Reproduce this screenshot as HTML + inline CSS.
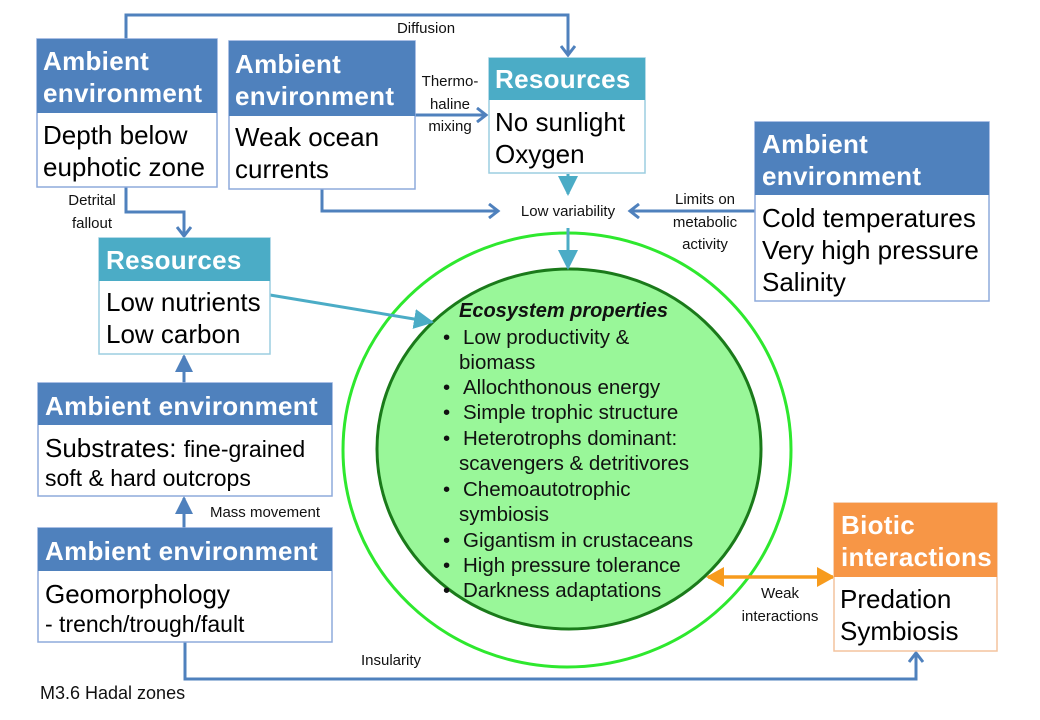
<!DOCTYPE html>
<html><head><meta charset="utf-8"><style>
html,body{margin:0;padding:0;background:#fff}
svg{display:block}
.h{font-family:"Liberation Sans",Arial,sans-serif;font-weight:bold;font-size:26px;fill:#fff;letter-spacing:0.3px}
.b{font-family:"Liberation Sans",Arial,sans-serif;font-size:26px;fill:#000}
.c{font-family:"Liberation Sans",Arial,sans-serif;font-size:20.5px;fill:#111}
.l{font-family:"Liberation Sans",Arial,sans-serif;font-size:15px;fill:#111}
</style></head><body>
<svg width="1040" height="720" viewBox="0 0 1040 720" xmlns="http://www.w3.org/2000/svg">
<defs>
<marker id="ab" markerWidth="14" markerHeight="16" refX="11" refY="8" orient="auto" markerUnits="userSpaceOnUse"><path d="M2,1 L11,8 L2,15" fill="none" stroke="#4f81bd" stroke-width="3"/></marker>
<marker id="tb" markerWidth="18" markerHeight="18" refX="16" refY="9" orient="auto" markerUnits="userSpaceOnUse"><path d="M0,0 L18,9 L0,18 Z" fill="#4f81bd"/></marker>
<marker id="tt" markerWidth="20" markerHeight="20" refX="18" refY="10" orient="auto" markerUnits="userSpaceOnUse"><path d="M0,0 L20,10 L0,20 Z" fill="#4bacc6"/></marker>
<marker id="to" markerWidth="18" markerHeight="20" refX="16" refY="10" orient="auto" markerUnits="userSpaceOnUse"><path d="M0,0 L18,10 L0,20 Z" fill="#f79b1d"/></marker>
<marker id="tos" markerWidth="18" markerHeight="20" refX="2" refY="10" orient="auto" markerUnits="userSpaceOnUse"><path d="M18,0 L0,10 L18,20 Z" fill="#f79b1d"/></marker>
</defs>

<ellipse cx="567" cy="450" rx="224" ry="217" fill="#fff" stroke="#2ee82e" stroke-width="3"/>
<ellipse cx="569" cy="449" rx="192" ry="180" fill="#99f799" stroke="#1a7a1a" stroke-width="3"/>

<polyline points="126,39 126,15 568,15 568,55" fill="none" stroke="#4f81bd" stroke-width="3" marker-end="url(#ab)"/>
<line x1="415" y1="115" x2="486" y2="115" stroke="#4f81bd" stroke-width="3" marker-end="url(#ab)"/>
<polyline points="322,189 322,211 498,211" fill="none" stroke="#4f81bd" stroke-width="3" marker-end="url(#ab)"/>
<line x1="755" y1="211" x2="630" y2="211" stroke="#4f81bd" stroke-width="3" marker-end="url(#ab)"/>
<polyline points="126,187 126,212 184,212 184,236" fill="none" stroke="#4f81bd" stroke-width="3" marker-end="url(#ab)"/>
<line x1="568" y1="174" x2="568" y2="194" stroke="#4bacc6" stroke-width="3" marker-end="url(#tt)"/>
<line x1="568" y1="228" x2="568" y2="268" stroke="#4bacc6" stroke-width="3" marker-end="url(#tt)"/>
<line x1="270" y1="295" x2="432" y2="322" stroke="#4bacc6" stroke-width="3" marker-end="url(#tt)"/>
<line x1="184" y1="383" x2="184" y2="356" stroke="#4f81bd" stroke-width="3" marker-end="url(#tb)"/>
<line x1="184" y1="528" x2="184" y2="498" stroke="#4f81bd" stroke-width="3" marker-end="url(#tb)"/>
<polyline points="185,642 185,679 916,679 916,653" fill="none" stroke="#4f81bd" stroke-width="3" marker-end="url(#ab)"/>
<line x1="708" y1="577" x2="833" y2="577" stroke="#f79b1d" stroke-width="3.5" marker-start="url(#tos)" marker-end="url(#to)"/>

<text class="l" x="426" y="33" text-anchor="middle">Diffusion</text>
<text class="l" x="450" y="86" text-anchor="middle">Thermo-</text>
<text class="l" x="450" y="109" text-anchor="middle">haline</text>
<text class="l" x="450" y="131" text-anchor="middle">mixing</text>
<text class="l" x="568" y="216" text-anchor="middle">Low variability</text>
<text class="l" x="705" y="204" text-anchor="middle">Limits on</text>
<text class="l" x="705" y="227" text-anchor="middle">metabolic</text>
<text class="l" x="705" y="249" text-anchor="middle">activity</text>
<text class="l" x="92" y="205" text-anchor="middle">Detrital</text>
<text class="l" x="92" y="228" text-anchor="middle">fallout</text>
<text class="l" x="265" y="517" text-anchor="middle">Mass movement</text>
<text class="l" x="391" y="665" text-anchor="middle">Insularity</text>
<text class="l" x="780" y="598" text-anchor="middle">Weak</text>
<text class="l" x="780" y="621" text-anchor="middle">interactions</text>
<text x="40" y="699" style="font-family:'Liberation Sans',Arial,sans-serif;font-size:18px;fill:#111">M3.6 Hadal zones</text>

<rect x="37" y="39" width="180" height="148" fill="#fff" stroke="#8eaadb" stroke-width="1.5"/>
<rect x="37" y="39" width="180" height="74" fill="#4f81bd"/>
<text class="h" x="43" y="70">Ambient</text><text class="h" x="43" y="102">environment</text>
<text class="b" x="43" y="144">Depth below</text><text class="b" x="43" y="176">euphotic zone</text>

<rect x="229" y="41" width="186" height="148" fill="#fff" stroke="#8eaadb" stroke-width="1.5"/>
<rect x="229" y="41" width="186" height="75" fill="#4f81bd"/>
<text class="h" x="235" y="73">Ambient</text><text class="h" x="235" y="105">environment</text>
<text class="b" x="235" y="146">Weak ocean</text><text class="b" x="235" y="178">currents</text>

<rect x="489" y="58" width="156" height="115" fill="#fff" stroke="#9ccde0" stroke-width="1.5"/>
<rect x="489" y="58" width="156" height="42" fill="#4bacc6"/>
<text class="h" x="495" y="88">Resources</text>
<text class="b" x="495" y="131">No sunlight</text><text class="b" x="495" y="163">Oxygen</text>

<rect x="755" y="122" width="234" height="179" fill="#fff" stroke="#8eaadb" stroke-width="1.5"/>
<rect x="755" y="122" width="234" height="73" fill="#4f81bd"/>
<text class="h" x="762" y="153">Ambient</text><text class="h" x="762" y="185">environment</text>
<text class="b" x="762" y="227">Cold temperatures</text>
<text class="b" x="762" y="259">Very high pressure</text>
<text class="b" x="762" y="291">Salinity</text>

<rect x="99" y="238" width="171" height="116" fill="#fff" stroke="#9ccde0" stroke-width="1.5"/>
<rect x="99" y="238" width="171" height="43" fill="#4bacc6"/>
<text class="h" x="106" y="269">Resources</text>
<text class="b" x="106" y="311">Low nutrients</text><text class="b" x="106" y="343">Low carbon</text>

<rect x="38" y="383" width="294" height="113" fill="#fff" stroke="#8eaadb" stroke-width="1.5"/>
<rect x="38" y="383" width="294" height="42" fill="#4f81bd"/>
<text class="h" x="45" y="415">Ambient environment</text>
<text class="b" x="45" y="457">Substrates: <tspan style="font-size:23px">fine-grained</tspan></text>
<text class="b" x="45" y="486" style="font-size:23px">soft &amp; hard outcrops</text>

<rect x="38" y="528" width="294" height="114" fill="#fff" stroke="#8eaadb" stroke-width="1.5"/>
<rect x="38" y="528" width="294" height="43" fill="#4f81bd"/>
<text class="h" x="45" y="560">Ambient environment</text>
<text class="b" x="45" y="603">Geomorphology</text>
<text class="b" x="45" y="632" style="font-size:23px">- trench/trough/fault</text>

<rect x="834" y="503" width="163" height="148" fill="#fff" stroke="#f4c39e" stroke-width="1.5"/>
<rect x="834" y="503" width="163" height="74" fill="#f79646"/>
<text class="h" x="841" y="534">Biotic</text><text class="h" x="841" y="566">interactions</text>
<text class="b" x="840" y="608">Predation</text><text class="b" x="840" y="640">Symbiosis</text>

<text class="c" x="459" y="317" style="font-weight:bold;font-style:italic;font-size:20px">Ecosystem properties</text>
<text class="c" x="443" y="344">•</text><text class="c" x="463" y="344">Low productivity &amp;</text>
<text class="c" x="459" y="369">biomass</text>
<text class="c" x="443" y="394">•</text><text class="c" x="463" y="394">Allochthonous energy</text>
<text class="c" x="443" y="419">•</text><text class="c" x="463" y="419">Simple trophic structure</text>
<text class="c" x="443" y="445">•</text><text class="c" x="463" y="445">Heterotrophs dominant:</text>
<text class="c" x="459" y="470">scavengers &amp; detritivores</text>
<text class="c" x="443" y="496">•</text><text class="c" x="463" y="496">Chemoautotrophic</text>
<text class="c" x="459" y="521">symbiosis</text>
<text class="c" x="443" y="547">•</text><text class="c" x="463" y="547">Gigantism in crustaceans</text>
<text class="c" x="443" y="572">•</text><text class="c" x="463" y="572">High pressure tolerance</text>
<text class="c" x="443" y="597">•</text><text class="c" x="463" y="597">Darkness adaptations</text>
</svg>
</body></html>
